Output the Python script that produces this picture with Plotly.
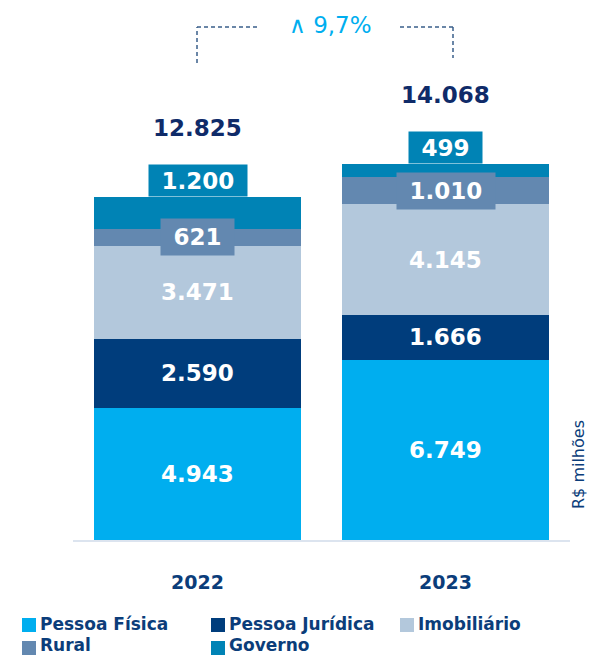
import plotly.graph_objects as go

years = ["2022", "2023"]
series_names = ["Pessoa Física", "Pessoa Jurídica", "Imobiliário", "Rural", "Governo"]
pessoa_fisica = [4943, 6749]
pessoa_juridica = [2590, 1666]
imobiliario = [3471, 4145]
rural = [621, 1010]
governo = [1200, 499]
totals = [12825, 14068]
growth_label = "∧ 9,7%"
unit_label = "R$ milhões"

colors = ["#00AEEF", "#003D7C", "#B3C8DC", "#6388B0", "#0083B5"]
series = [pessoa_fisica, pessoa_juridica, imobiliario, rural, governo]

FONT = "DejaVu Sans"
NAVY = "#0B3D7A"

OFF = 8  # page body margin offset
W, H = 614 - OFF, 658 - OFF
ML, MR, MT, MB = 73 - OFF, 44, 0, 118
PW, PH = W - ML - MR, H - MT - MB


def fmt(v):
    return f"{v:,}".replace(",", ".")


def box_w(s):
    n_d = sum(c.isdigit() for c in s)
    n_p = s.count(".")
    return round(0.71 * 23 * n_d + 0.38 * 23 * n_p + 24)


def px_x(p):
    return (p - OFF - ML) / PW


def px_y(p):
    return (H - MB - (p - OFF)) / PH


fig = go.Figure()
for name, vals, col in zip(series_names, series, colors):
    fig.add_trace(go.Bar(
        x=years, y=vals, name=name, marker=dict(color=col, line=dict(width=0)),
        width=0.835, hoverinfo="x+y+name",
    ))

annotations = []
for i, yr in enumerate(years):
    base = 0
    for k, (vals, col) in enumerate(zip(series, colors)):
        v = vals[i]
        txt = fmt(v)
        if k < 3:
            annotations.append(dict(
                x=i, y=base + v / 2, text=txt, showarrow=False,
                font=dict(family=FONT, size=23, color="white", weight="bold"),
                xanchor="center", yanchor="middle"))
        elif k == 3:
            annotations.append(dict(
                x=i, y=base + v / 2, text=txt, showarrow=False,
                font=dict(family=FONT, size=23, color="white", weight="bold"),
                bgcolor=col, borderpad=0, width=box_w(txt), height=36,
                xanchor="center", yanchor="middle", valign="middle"))
        else:
            annotations.append(dict(
                x=i, y=base + v, text=txt, showarrow=False,
                font=dict(family=FONT, size=23, color="white", weight="bold"),
                bgcolor=col, borderpad=0, width=box_w(txt), height=31,
                xanchor="center", yanchor="bottom", valign="middle"))
        base += v
    annotations.append(dict(
        x=i, y=totals[i], text=fmt(totals[i]), showarrow=False, yshift=69,
        font=dict(family=FONT, size=23, color="#0F2B69", weight="bold"),
        xanchor="center", yanchor="middle"))

annotations.append(dict(
    x=px_x(330), xref="paper", y=px_y(25), yref="paper", text=growth_label, showarrow=False,
    font=dict(family=FONT, size=23, color="#00AEEF"), xanchor="center", yanchor="middle"))
annotations.append(dict(
    x=px_x(578), xref="paper", y=px_y(465), yref="paper", text=unit_label, showarrow=False,
    textangle=-90, font=dict(family=FONT, size=16, color=NAVY),
    xanchor="center", yanchor="middle"))

dash_col = "#3A5F8A"
line_style = dict(color=dash_col, width=1.5, dash="4px,3px")
shapes = [
    dict(type="line", xref="paper", yref="paper", x0=px_x(197), x1=px_x(197), y0=px_y(63), y1=px_y(27), line=line_style),
    dict(type="line", xref="paper", yref="paper", x0=px_x(197), x1=px_x(258), y0=px_y(27), y1=px_y(27), line=line_style),
    dict(type="line", xref="paper", yref="paper", x0=px_x(400), x1=px_x(453), y0=px_y(27), y1=px_y(27), line=line_style),
    dict(type="line", xref="paper", yref="paper", x0=px_x(453), x1=px_x(453), y0=px_y(27), y1=px_y(58), line=line_style),
]

# manual legend (two rows, three columns) built from series names/colours
leg_cols_px = [22, 211, 400]
leg_square_rows_px = [625, 648]
leg_text_rows_px = [624, 645]
for idx, (name, col) in enumerate(zip(series_names, colors)):
    r, c = divmod(idx, 3)
    x0 = leg_cols_px[c]
    ys = leg_square_rows_px[r]
    shapes.append(dict(type="rect", xref="paper", yref="paper",
                       x0=px_x(x0), x1=px_x(x0 + 14), y0=px_y(ys + 7), y1=px_y(ys - 7),
                       fillcolor=col, line=dict(width=0)))
    annotations.append(dict(
        x=px_x(x0 + 16), xref="paper", y=px_y(leg_text_rows_px[r]), yref="paper", text=name,
        showarrow=False, xanchor="left", yanchor="middle",
        font=dict(family=FONT, size=17, color=NAVY, weight="bold")))

fig.update_layout(
    width=W, height=H,
    margin=dict(l=ML, r=MR, t=MT, b=MB),
    barmode="stack",
    bargap=0,
    plot_bgcolor="white", paper_bgcolor="white",
    font=dict(family=FONT, color=NAVY),
    annotations=annotations,
    shapes=shapes,
    showlegend=False,
    xaxis=dict(
        type="category", range=[-0.502, 1.502], showgrid=False, zeroline=False,
        showline=True, linecolor="#DCE4EF", linewidth=2, ticks="",
        ticklabelstandoff=24,
        tickfont=dict(family=FONT, size=19, color=NAVY, weight="bold"),
        fixedrange=True,
    ),
    yaxis=dict(
        range=[0, PH / 0.02674], showgrid=False, zeroline=False, showline=False,
        showticklabels=False, ticks="", fixedrange=True,
    ),
)

fig.write_html("out.html")
